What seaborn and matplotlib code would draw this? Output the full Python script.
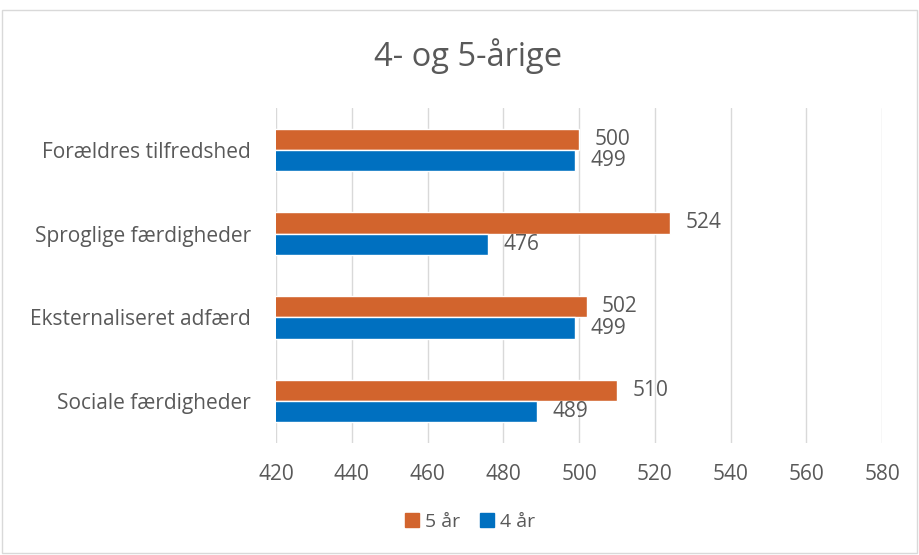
import matplotlib
matplotlib.use("Agg")
import matplotlib.pyplot as plt
import seaborn as sns
import pandas as pd
from matplotlib.patches import Rectangle

categories = ["Forældres tilfredshed", "Sproglige færdigheder", "Eksternaliseret adfærd", "Sociale færdigheder"]
series_names = ["5 år", "4 år"]
values_5 = [500, 524, 502, 510]
values_4 = [499, 476, 499, 489]
xticks = [420, 440, 460, 480, 500, 520, 540, 560, 580]
title = "4- og 5-årige"

colors = ["#D2642D", "#0070C0"]
text_color = "#595959"

df = pd.DataFrame({
    "Kategori": categories * 2,
    "Serie": [series_names[0]] * len(categories) + [series_names[1]] * len(categories),
    "Værdi": values_5 + values_4,
})

sns.set_theme(style="white")
plt.rcParams["font.family"] = ["Open Sans", "DejaVu Sans"]

fig = plt.figure(figsize=(9.2, 5.55), dpi=100)
ax = fig.add_axes([0.3, 0.2018, 0.6587, 0.6036])

sns.barplot(data=df, y="Kategori", x="Værdi", hue="Serie", order=categories,
            hue_order=series_names, palette=colors, orient="h", width=0.51,
            saturation=1, ax=ax, legend=False)

ax.set_xlim(420, 580)
ax.set_ylim(3.5, -0.5)
ax.set_xticks(xticks)
ax.set_xticklabels([str(t) for t in xticks])
ax.set_xlabel("")
ax.set_ylabel("")
ax.grid(axis="x", color="#d9d9d9", linewidth=1)
ax.grid(axis="y", visible=False)
ax.set_axisbelow(True)
for s in ax.spines.values():
    s.set_visible(False)
ax.tick_params(axis="x", length=0, pad=15, labelsize=15, labelcolor=text_color)
ax.tick_params(axis="y", length=0, pad=18, labelsize=15, labelcolor=text_color)

for cont in ax.containers:
    ax.bar_label(cont, fmt="%d", padding=11, fontsize=15, color=text_color)

fig.text(0.509, 0.881, title, ha="center", va="baseline", fontsize=23.5, color=text_color)

handles = [Rectangle((0, 0), 1, 1, color=c) for c in colors]
fig.legend(handles, series_names, loc="center", bbox_to_anchor=(0.511, 0.06), ncol=2,
           frameon=False, fontsize=14, labelcolor=text_color, handlelength=0.75,
           handleheight=0.75, handletextpad=0.3, columnspacing=1.0)

fig.patches.append(Rectangle((0.002, 0.004), 0.995, 0.978, transform=fig.transFigure,
                             fill=False, edgecolor="#d9d9d9", linewidth=1))

fig.savefig("out.png", dpi=100, facecolor="white")
